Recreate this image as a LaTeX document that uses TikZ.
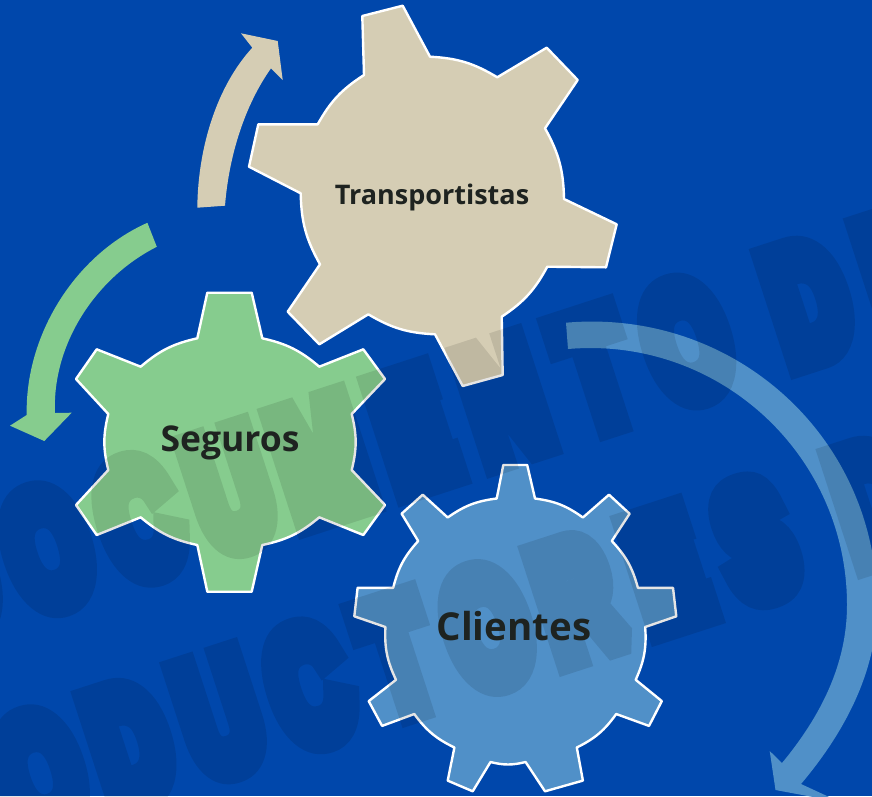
\documentclass[tikz,border=0pt]{standalone}
\usepackage{fontspec}
\setmainfont{Open Sans}
\newfontfamily\wmfont[FakeBold=20]{Liberation Sans Bold}
\newcommand{\wa}[1]{\makebox[145.5pt]{#1}}
\newcommand{\wb}[1]{\makebox[142.4pt]{#1}}
\definecolor{bgblue}{HTML}{0047AB}
\definecolor{gbeige}{HTML}{D5CDB4}
\definecolor{ggreen}{HTML}{86CC8E}
\definecolor{gblue}{HTML}{5090C8}
\definecolor{labelink}{HTML}{1E2320}
\tikzset{
  gearshape/.style={draw=white,line width=2.4pt,line join=round},
  ga/.style={bend left=14},
  arrowshape/.style={draw=none},
  wmark/.style={anchor=base west,inner sep=0pt,rotate=18,xscale=.66,transform shape,
    font=\wmfont\fontsize{155}{155}\selectfont,text=black},
  gearlabel/.style={text=labelink,inner sep=0pt}
}
\begin{document}
\begin{tikzpicture}[x=1pt,y=-1pt]
\useasboundingbox (0,0) rectangle (872,796);
\fill[bgblue] (0,0) rectangle (872,796);
% arrows
\fill[gbeige,arrowshape] (197.3,207.7) -- (225,205.7) .. controls (229,155) and (245,105) .. (271,68.3)
  -- (282.7,80) -- (277.7,41) -- (241,33.3) -- (252.3,47.7)
  .. controls (218,85) and (198,145) .. (197.3,207.7) -- cycle;
\fill[ggreen,arrowshape] (147.4,222.8) -- (156.8,246.8) .. controls (95,278) and (52,345) .. (55,413)
  -- (71.7,412.7) -- (44.3,441) -- (10,425.7) -- (26.7,415)
  .. controls (25,335) and (75,255) .. (147.4,222.8) -- cycle;
\fill[gblue,arrowshape] (566,322.7) -- (568,349) .. controls (718,336) and (847,454) .. (847,605)
  .. controls (847,665) and (820,717) .. (782,763) -- (769.7,751) -- (775.5,790) -- (840,802) -- (801,784)
  .. controls (844,733) and (877,672) .. (877,605)
  .. controls (877,437) and (734,308) .. (566,322.7) -- cycle;
% gears
\draw[gearshape,fill=gbeige] (362.3,16) -- (402.7,5.7) -- (430,56.7) to[ga] (497.3,77.3) -- (546.7,47.7)
  -- (577.7,80) -- (545,128.3) to[ga] (564,199) -- (616.7,224.3) -- (606,267.3) -- (547.3,266.7)
  to[ga] (501.7,316.7) -- (502.7,375) -- (462.7,386) -- (435,334.3) to[ga] (368.3,314.3)
  -- (319.3,344.3) -- (287.7,311.7) -- (320,264.3) to[ga] (300.7,193.3) -- (249,166.7)
  -- (258.3,124.3) -- (317.7,124.3) to[ga] (364,75) -- cycle;
\draw[gearshape,fill=ggreen] (207.3,292.7) -- (251.7,292.7) -- (262.3,338.3) to[ga] (319.3,366.7)
  -- (363.3,349.3) -- (385,379) -- (351.7,414) to[ga] (351.7,470) -- (385,505) -- (363.3,535)
  -- (319.3,517.3) to[ga] (262.3,545) -- (251.7,591.7) -- (207.3,591.7) -- (197.3,545)
  to[ga] (140.7,517.3) -- (96.7,535) -- (76,505) -- (108.3,470) to[ga] (108.3,414) -- (76,379)
  -- (96.7,349.3) -- (140.7,366.7) to[ga] (197.3,338.3) -- cycle;
\draw[gearshape,fill=gblue] (503.3,465) -- (527.2,465) -- (535,498.5) to[ga] (582.9,517.5) -- (609,494.7)
  -- (629.6,513.7) -- (611.8,541) to[ga] (637.9,587.8) -- (673,587.8) -- (676.3,616.3) -- (645.2,627)
  to[ga] (635.7,679.8) -- (661.8,701.1) -- (649,725.9) -- (616.2,714) to[ga] (576.8,747.5)
  -- (582.9,780.6) -- (545,791.3) -- (525.6,762) to[ga] (490.5,762) -- (472.7,791.3) -- (447.7,780.6)
  -- (454.4,747.5) to[ga] (414.3,714) -- (382.1,725.9) -- (368.7,701.1) -- (396,679.8) to[ga] (385.4,627)
  -- (354.3,616.3) -- (357.6,587.8) -- (393.2,587.8) to[ga] (418.2,541) -- (401.6,513.7) -- (422.7,494.7)
  -- (447.7,517.5) to[ga] (496.7,498.5) -- cycle;
% watermark
\begin{scope}[transparency group,opacity=.1]
\node[wmark] (wmone) at (-73,644.5) {\pgfsetmiterlimit{1.5}\wa{D}\wa{O}\wa{C}\wa{U}\wa{M}\wa{E}\wa{N}\wa{T}\wa{O}\makebox[48pt]{ }\wa{D}\wa{E}};
\node[wmark] (wmtwo) at (-166.5,896.6) {\pgfsetmiterlimit{1.5}\wb{P}\wb{R}\wb{O}\wb{D}\wb{U}\wb{C}\wb{T}\wb{O}\wb{R}\wb{E}\wb{S}\makebox[48pt]{ }\wb{D}\wb{E}};
\end{scope}
% labels
\node[gearlabel,font=\fontsize{27}{27}\selectfont\bfseries] (ltrans) at (432,197) {Transportistas};
\node[gearlabel,font=\fontsize{35.5}{36}\selectfont\bfseries] (lseg) at (230,443) {Seguros};
\node[gearlabel,font=\fontsize{38.5}{39}\selectfont\bfseries] (lcli) at (514,626) {Clientes};
\end{tikzpicture}
\end{document}
